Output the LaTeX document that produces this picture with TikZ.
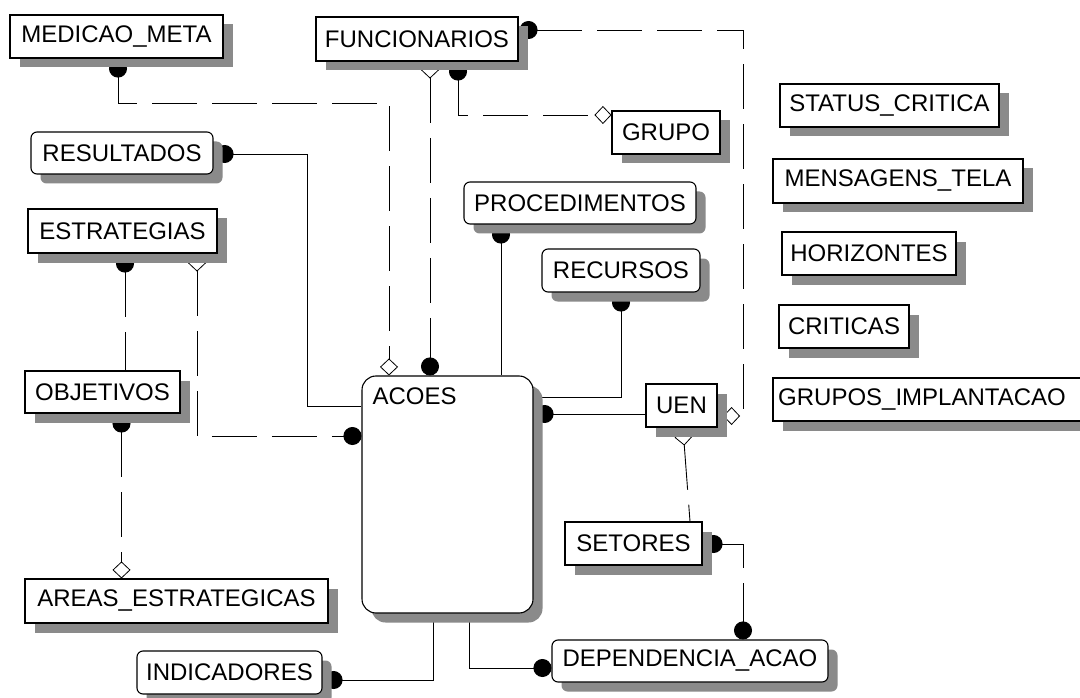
\documentclass[tikz,border=0pt]{standalone}
\usepackage{fontspec}
\setmainfont{Liberation Sans}
\usetikzlibrary{shadows,calc,arrows.meta}
\pgfdeclarelayer{background}
\pgfsetlayers{background,main}
\definecolor{shadowgray}{RGB}{138,138,138}
\tikzset{
  x=1pt, y=-1pt,
  entity/.style={draw=black, line width=1.1pt, fill=white, inner sep=0pt,
    font=\fontsize{24}{28}\selectfont,
    drop shadow={shadow xshift=9.5pt, shadow yshift=-9.5pt, fill=shadowgray, opacity=1}},
  ident/.style={entity, rounded corners=6pt},
  rel/.style={line width=0.9pt, draw=black},
  nonident/.style={rel, dash pattern=on 45pt off 15pt},
  many/.tip={Circle[length=18pt, width=18pt]},
  opt/.tip={Diamond[length=17pt, width=18pt, fill=white, line width=0.8pt]},
}
\begin{document}
\begin{tikzpicture}
\begin{pgfonlayer}{background}
  \fill[white] (0,0) rectangle (1080,698);
\end{pgfonlayer}
\useasboundingbox (0,0) rectangle (1080,698);

% entities
\node[entity, minimum width=213pt, minimum height=43pt] (medicao) at (116.5,36.5) {MEDICAO\_META};
\node[entity, minimum width=202pt, minimum height=44pt] (funcionarios) at (417,39) {FUNCIONARIOS};
\node[entity, minimum width=108pt, minimum height=43pt] (grupo) at (666,132.5) {GRUPO};
\node[ident, minimum width=182pt, minimum height=42pt] (resultados) at (122,153) {RESULTADOS};
\node[entity, minimum width=189pt, minimum height=44pt] (estrategias) at (122.5,231) {ESTRATEGIAS};
\node[entity, minimum width=155pt, minimum height=42pt] (objetivos) at (102.5,392) {OBJETIVOS};
\node[entity, minimum width=303pt, minimum height=44pt] (areas) at (176.5,601) {AREAS\_ESTRATEGICAS};
\node[ident, minimum width=185pt, minimum height=43pt] (indicadores) at (229.5,672.5) {INDICADORES};
\node[entity, rounded corners=14pt, minimum width=171pt, minimum height=237pt,
  label={[anchor=north west, inner sep=0pt, xshift=11pt, yshift=-12pt,
          font=\fontsize{24}{28}\selectfont]north west:ACOES}] (acoes) at (447.5,494.5) {};
\node[ident, minimum width=232pt, minimum height=42pt] (procedimentos) at (580,203) {PROCEDIMENTOS};
\node[ident, minimum width=158pt, minimum height=43pt] (recursos) at (621,270.5) {RECURSOS};
\node[entity, minimum width=71pt, minimum height=43pt] (uen) at (681.5,405.5) {UEN};
\node[entity, minimum width=137pt, minimum height=43pt] (setores) at (633.5,543.5) {SETORES};
\node[ident, minimum width=276pt, minimum height=42pt] (dependencia) at (690,661) {DEPENDENCIA\_ACAO};
\node[entity, minimum width=219pt, minimum height=43pt] (status) at (889.5,105.5) {STATUS\_CRITICA};
\node[entity, minimum width=250pt, minimum height=44pt] (mensagens) at (898,181) {MENSAGENS\_TELA};
\node[entity, minimum width=174pt, minimum height=43pt] (horizontes) at (869,253.5) {HORIZONTES};
\node[entity, minimum width=130pt, minimum height=43pt] (criticas) at (844,326.5) {CRITICAS};
\node[entity, minimum width=312pt, minimum height=43pt] (gruposimpl) at (929,399.5) {\hspace*{-14pt}GRUPOS\_IMPLANTACAO};

% relationships
\begin{pgfonlayer}{background}
  \draw[nonident, {many}-{opt}] ($(medicao.south)+(1.5,1)$) |- (389,103) -- ($(acoes.north)+(-58.5,0)$);
  \draw[nonident, {opt}-{many}] ($(funcionarios.south)+(13,0)$) -- ($(acoes.north)+(-17.5,0)$);
  \draw[nonident, {many}-{opt}] ($(funcionarios.south)+(41,1)$) |- ($(grupo.west)+(0,-17.5)$);
  \draw[nonident, {many}-{opt}] ($(funcionarios.east)+(1,-9)$) -| (743,416) -- ($(uen.east)+(5.5,10.5)$);
  \draw[nonident, {many}-] ($(estrategias.south)+(2.5,1)$) -- ($(objetivos.north)+(22.5,0)$);
  \draw[nonident, {opt}-{many}] ($(estrategias.south)+(74.5,1)$) |- ($(acoes.west)+(0,-58.5)$);
  \draw[nonident, {many}-{opt}] ($(objetivos.south)+(19,1)$) -- ($(areas.north)+(-55,0)$);
  \draw[rel, {many}-] ($(resultados.east)+(2,1)$) -| (307,406) -- ($(acoes.west)+(0,-88.5)$);
  \draw[rel, {many}-] ($(procedimentos.south)+(-79,1)$) -- ($(acoes.north)+(53.5,0)$);
  \draw[rel, {many}-] ($(recursos.south)+(0,1)$) |- ($(acoes.east)+(0,-97.5)$);
  \draw[rel, {many}-] ($(acoes.east)+(2,-80.5)$) -- ($(uen.west)+(0,8.5)$);
  \draw[nonident, {opt}-] ($(uen.south)+(1.5,1)$) -- ($(setores.north)+(56.5,0)$);
  \draw[nonident, {many}-{many}] ($(setores.east)+(2,0.5)$) -| ($(dependencia.north)+(53,0)$);
  \draw[rel, -{many}] ($(acoes.south)+(21.5,0)$) |- ($(dependencia.west)+(0,7)$);
  \draw[rel, -{many}] ($(acoes.south)+(-14.5,0)$) |- ($(indicadores.east)+(2,7.5)$);
\end{pgfonlayer}
\end{tikzpicture}
\end{document}
